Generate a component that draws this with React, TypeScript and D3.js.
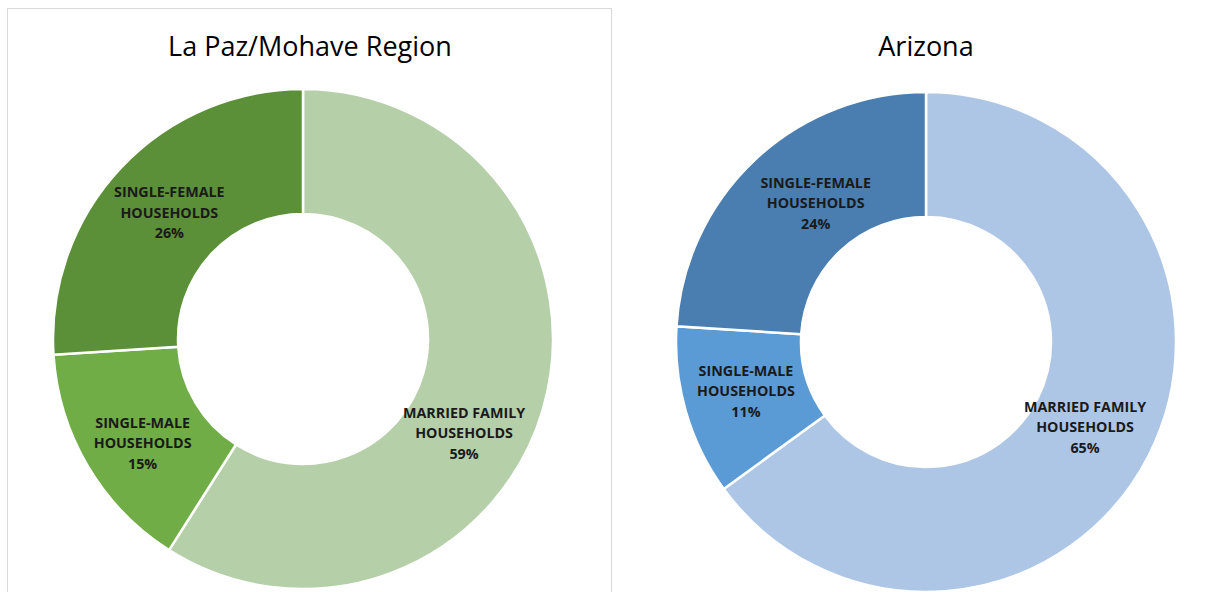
import React from "react";
import * as d3 from "d3";

const categories = ["MARRIED FAMILY", "SINGLE-MALE", "SINGLE-FEMALE"];
const regionTitles = ["La Paz/Mohave Region", "Arizona"];
const laPazValues = [59, 15, 26];
const arizonaValues = [65, 11, 24];
const greenColors = ["#B5CFA8", "#70AD47", "#5B8F38"];
const blueColors = ["#AEC6E6", "#5B9BD5", "#4A7EB0"];

const W = 1223;
const H = 592;

type Panel = {
  title: string;
  titleX: number;
  values: number[];
  colors: string[];
  cx: number;
  cy: number;
  nudge: [number, number][];
};

const panels: Panel[] = [
  { title: regionTitles[0], titleX: 310, values: laPazValues, colors: greenColors, cx: 303, cy: 339, nudge: [[-19, 42], [1, 9], [3, 2]] },
  { title: regionTitles[1], titleX: 926, values: arizonaValues, colors: blueColors, cx: 926, cy: 342, nudge: [[-8, 0], [0, -3], [18, -2]] },
];

const outerR = 250;
const innerR = 125;

function Donut({ p }: { p: Panel }) {
  const pie = d3.pie<number>().sort(null).value((d) => d);
  const arcs = pie(p.values);
  const arc = d3.arc<d3.PieArcDatum<number>>().innerRadius(innerR).outerRadius(outerR);
  return (
    <g>
      <text x={p.titleX} y={56} textAnchor="middle" fontFamily="'Open Sans', sans-serif" fontSize={27} fill="#000">
        {p.title}
      </text>
      <g transform={`translate(${p.cx},${p.cy})`}>
        {arcs.map((a, i) => (
          <path key={i} d={arc(a) || ""} fill={p.colors[i]} stroke="#fff" strokeWidth={2.5} />
        ))}
        {arcs.map((a, i) => {
          const [x, y] = arc.centroid(a);
          const lx = x + p.nudge[i][0];
          const ly = y + p.nudge[i][1];
          return (
            <text key={i} x={lx} y={ly} textAnchor="middle" fontFamily="'Open Sans', sans-serif" fontWeight="bold" fontSize={14.3} fill="#1a1a1a">
              <tspan x={lx} dy={-15.5}>{categories[i]}</tspan>
              <tspan x={lx} dy={20.5}>HOUSEHOLDS</tspan>
              <tspan x={lx} dy={20.5}>{`${p.values[i]}%`}</tspan>
            </text>
          );
        })}
      </g>
    </g>
  );
}

export default function App() {
  return (
    <svg width={W} height={H} style={{ position: "absolute", left: 0, top: 0, background: "#fff" }}>
      <rect x={0} y={0} width={W} height={H} fill="#fff" />
      <rect x={7.5} y={8.5} width={604} height={600} fill="none" stroke="#D9D9D9" strokeWidth={1} />
      {panels.map((p, i) => (
        <Donut key={i} p={p} />
      ))}
    </svg>
  );
}
